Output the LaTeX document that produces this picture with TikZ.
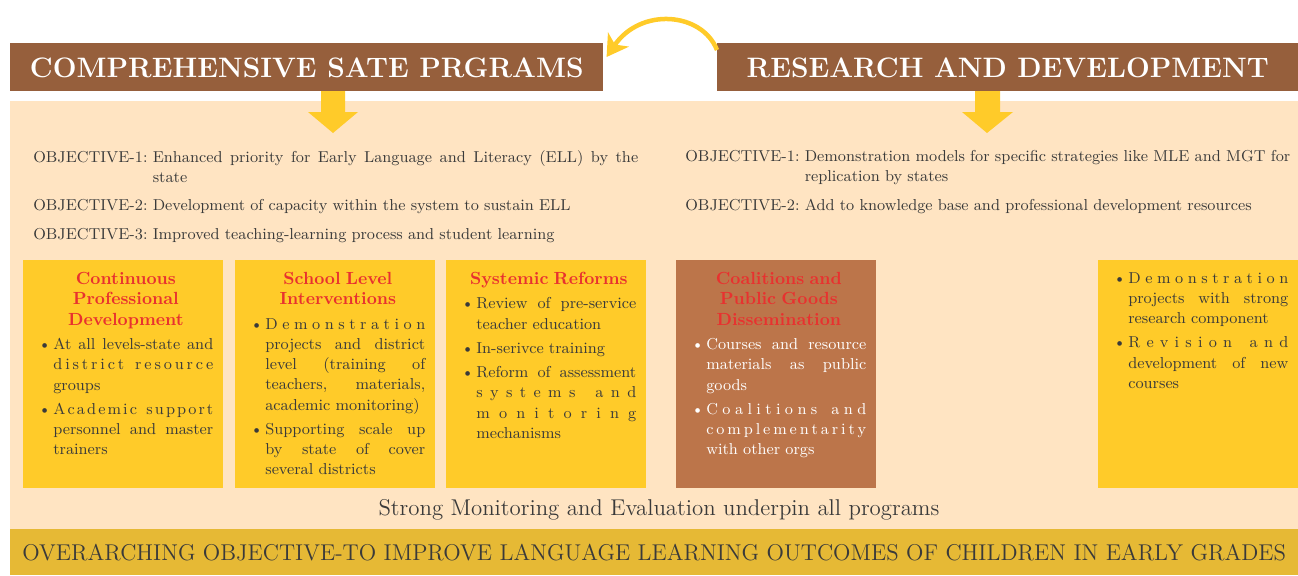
\documentclass[tikz,border=0pt]{standalone}
\usepackage{tikz}
\usetikzlibrary{arrows.meta}
\usetikzlibrary{calc}

\definecolor{hdrbrown}{HTML}{965F3C}
\definecolor{peach}{HTML}{FFE4C2}
\definecolor{boxyel}{HTML}{FFCB29}
\definecolor{boxbrown}{HTML}{BC754A}
\definecolor{bandgold}{HTML}{E6B935}
\definecolor{titred}{HTML}{E8312F}
\definecolor{txtgray}{HTML}{3A3A3A}

\newlength{\objw}
\newcommand{\justlines}{\leftskip=0pt\rightskip=0pt\spaceskip=0.33em plus 1fil\xspaceskip=0.33em plus 1fil\parfillskip=0pt plus 1fill\tolerance=10000\hbadness=10000}
\newcommand{\boxtitle}[1]{{\centering\fontsize{10}{11.6}\selectfont\bfseries\color{titred}#1\par}\vspace{2.3pt}}
\newcommand{\bitem}[1]{{\noindent\justlines\hangindent=0.3cm\hangafter=1\makebox[0.3cm][l]{\textbullet}#1\par}\vspace{2.3pt}}
\newcommand{\objline}[2]{{\settowidth{\objw}{#1\ }\noindent\justlines\hangindent=\objw\hangafter=1\makebox[\objw][l]{#1}#2\par}}
% spread letters over a full box line
\newcommand{\gobb}[1]{}
\def\sprx#1#2{#1\ifx\relax#2\expandafter\gobb\else\hfil\expandafter\sprx\fi#2}
\newcommand{\spr}[1]{\makebox[3.2cm][s]{\sprx#1\relax}}
\newcommand{\sprtwo}[2]{\makebox[3.2cm][s]{\sprx#1\relax\hfil\hskip0.33em\hfil\sprx#2\relax}}

\begin{document}
\begin{tikzpicture}[x=0.02cm,y=-0.02cm,
    hdr/.style={fill=hdrbrown,text=white,anchor=north west,minimum height=0.96cm,inner sep=0pt,font=\fontsize{16}{18}\selectfont\bfseries},
    obj/.style={anchor=north west,inner sep=0pt,text width=12.1cm,text=txtgray,font=\fontsize{9}{11.4}\selectfont},
    ybox/.style={fill=boxyel,anchor=north west,minimum width=4cm,minimum height=4.56cm,inner sep=0pt},
    bbox/.style={ybox,fill=boxbrown},
    boxtxt/.style={anchor=north west,inner sep=0pt,text width=3.5cm,text=txtgray,font=\fontsize{9}{11.5}\selectfont}]
    \useasboundingbox (0,0) rectangle (1298,575);
    \fill[peach] (10,101) rectangle (1298,575);

    \node[hdr,minimum width=11.86cm] (csp) at (10,43) {COMPREHENSIVE SATE PRGRAMS};
    \node[hdr,minimum width=11.62cm] (rnd) at (717,43) {RESEARCH AND DEVELOPMENT};
    \draw[boxyel,line width=0.09cm,-{Stealth[length=0.42cm,width=0.5cm,inset=0.12cm]}]
      ([shift={(0,7)}]rnd.north west) .. controls +(-15,-38) and +(34,-50) .. ([shift={(3,14)}]csp.north east);
    \fill[boxyel] (321,91) -- (345,91) -- (345,112) -- (358,112) -- (333,133) -- (308,112) -- (321,112) -- cycle;
    \fill[boxyel] (975,91) -- (1000,91) -- (1000,112) -- (1013,112) -- (987,133) -- (962,112) -- (975,112) -- cycle;

    \node[obj] (lo1) at (33,150) {\objline{OBJECTIVE-1:}{Enhanced priority for Early Language and Literacy (ELL) by the\linebreak state}};
    \node[obj] (lo2) at (33,199) {\objline{OBJECTIVE-2:}{Development of capacity within the system to sustain ELL}};
    \node[obj] (lo3) at (33,228) {\objline{OBJECTIVE-3:}{Improved teaching-learning process and student learning}};
    \node[obj] (ro1) at (685,150) {\objline{OBJECTIVE-1:}{Demonstration models for specific strategies like MLE and MGT for\linebreak replication by states}};
    \node[obj] (ro2) at (685,199) {\objline{OBJECTIVE-2:}{Add to knowledge base and professional development resources}};

    \node[ybox] (cpd) at (23,260) {};
    \node[boxtxt] (cpdt) at ([shift={(15,12)}]cpd.north west) {\boxtitle{Continuous\\Professional\\Development}%
      \bitem{At all levels-state and\linebreak \sprtwo{district}{resource}\linebreak groups}\bitem{\sprtwo{Academic}{support}\linebreak personnel and master\linebreak trainers}};
    \node[ybox] (sli) at (235,260) {};
    \node[boxtxt] (slit) at ([shift={(15,12)}]sli.north west) {\boxtitle{School Level\\Interventions}%
      \bitem{\spr{Demonstration}\linebreak projects and district\linebreak level (training of\linebreak teachers, materials,\linebreak academic monitoring)}%
      \bitem{Supporting scale up\linebreak by state of cover\linebreak several districts}};
    \node[ybox] (sys) at (446,260) {};
    \node[boxtxt] (syst) at ([shift={(15,12)}]sys.north west) {\boxtitle{Systemic Reforms}%
      \bitem{Review of pre-service\linebreak teacher education}\bitem{In-serivce training}%
      \bitem{Reform of assessment\linebreak \sprtwo{systems}{and}\linebreak \spr{monitoring}\linebreak mechanisms}};
    \node[bbox] (cpg) at (676,260) {};
    \node[boxtxt,text=white] (cpgt) at ([shift={(15,12)}]cpg.north west) {\boxtitle{Coalitions and\\Public Goods\\Dissemination}%
      \bitem{Courses and resource\linebreak materials as public\linebreak goods}\bitem{\sprtwo{Coalitions}{and}\linebreak \spr{complementarity}\linebreak with other orgs}};
    \node[ybox] (rdb) at (1098,260) {};
    \node[boxtxt] (rdbt) at ([shift={(15,12)}]rdb.north west) {\bitem{\spr{Demonstration}\linebreak projects with strong\linebreak research component}%
      \bitem{\sprtwo{Revision}{and}\linebreak development of new\linebreak courses}};

    \node[font=\fontsize{13}{15}\selectfont,text=txtgray] (mne) at (659,510) {Strong Monitoring and Evaluation underpin all programs};
    \node[fill=bandgold,anchor=north west,minimum width=25.76cm,minimum height=0.92cm,inner sep=0pt,text=txtgray,font=\fontsize{13}{15}\selectfont] (ovr) at (10,529)
      {OVERARCHING OBJECTIVE-TO IMPROVE LANGUAGE LEARNING OUTCOMES OF CHILDREN IN EARLY GRADES};
\end{tikzpicture}
\end{document}
